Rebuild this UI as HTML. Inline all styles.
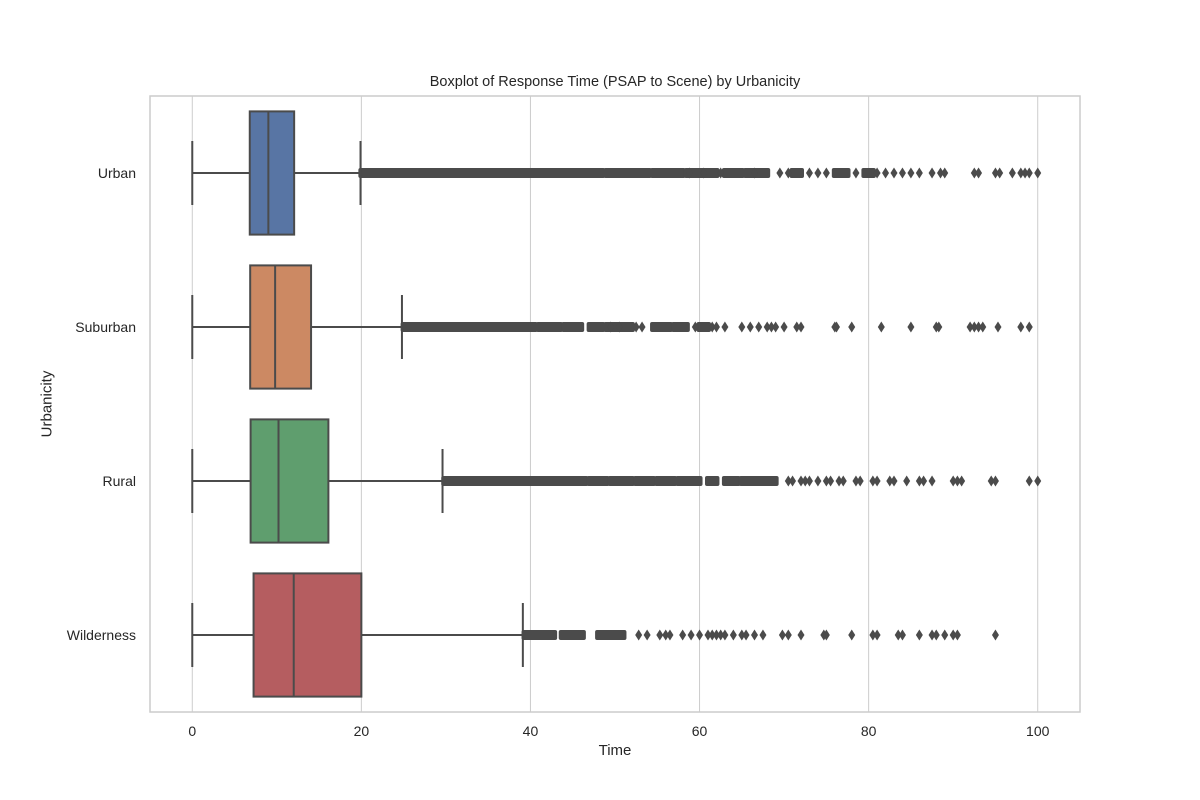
<!DOCTYPE html>
<html><head><meta charset="utf-8"><style>
body{margin:0;background:#fff;}
svg{display:block;font-family:"Liberation Sans","DejaVu Sans",sans-serif;}
</style></head><body>
<svg id="chart" width="1200" height="800"></svg>
<script>
const categories=["Urban","Suburban","Rural","Wilderness"];
const colors=["#5875a4","#cc8963","#5f9e6e","#b55d60"];
const whiskLo=[0,0,0,0];
const q1=[6.8,6.85,6.9,7.25];
const medians=[9.0,9.8,10.2,12.0];
const q3=[12.05,14.05,16.1,20.0];
const whiskHi=[19.9,24.8,29.6,39.1];
// dense outlier bands [start,end]
const bandsUrban=[[20,48.5],[49,54],[54.5,58],[58.5,62],[63,65],[65.5,68],[71,72],[76,77.5],[79.5,80.5]];
const bandsSuburban=[[25,40.5],[41,43.5],[44,46],[47,48.5],[49,52],[54.5,56.5],[57,58.5],[60,61]];
const bandsRural=[[29.8,46.5],[47,49],[49.5,52],[52.5,54.5],[55,57],[57.5,60],[61,62],[63,64.5],[65,69]];
const bandsWild=[[39.3,42.8],[43.7,46.2],[48,51]];
const ptsUrban=[58.8,60.5,62.5,66.5,69.5,70.5,73,74,75,78.5,81,82,83,84,85,86,87.5,88.5,89,92.5,93,95,95.5,97,98,98.5,99,100];
const ptsSuburban=[49.5,50.5,52.5,53.2,59.5,61.5,62,63,65,66,67,68,68.5,69,70,71.5,72,76,76.2,78,81.5,85,88,88.3,92,92.5,93,93.5,95.3,98,99];
const ptsRural=[70.5,71,72,72.5,73,74,75,75.5,76.5,77,78.5,79,80.5,81,82.5,83,84.5,86,86.5,87.5,90,90.5,91,94.5,95,99,100];
const ptsWild=[52.8,53.8,55.3,56,56.5,58,59,60,61,61.5,62,62.5,63,64,65,65.5,66.5,67.5,69.8,70.5,72,74.7,75,78,80.5,81,83.5,84,86,87.5,88,89,90,90.5,95];
const allBands=[bandsUrban,bandsSuburban,bandsRural,bandsWild];
const allPts=[ptsUrban,ptsSuburban,ptsRural,ptsWild];
const xTicks=[0,20,40,60,80,100];

const NS="http://www.w3.org/2000/svg";
const svg=document.getElementById('chart');
const L=150,R=1080,T=96,B=712;
const xmin=-5,xmax=105;
const x=v=>L+(v-xmin)/(xmax-xmin)*(R-L);
const band=(B-T)/categories.length;
const yc=i=>T+band*(i+0.5);
const boxH=band*0.8;
function el(tag,attrs,parent){const e=document.createElementNS(NS,tag);for(const k in attrs)e.setAttribute(k,attrs[k]);(parent||svg).appendChild(e);return e;}

xTicks.forEach(t=>{
  const g=el('line',{x1:x(t),x2:x(t),y1:T,y2:B,stroke:'#cccccc','stroke-width':1});
  
  
  const tl=el('text',{x:x(t),y:B+24,'text-anchor':'middle','font-size':14,fill:'#262626'});
  tl.textContent=t;
  
  
});
const frame=el('rect',{x:L,y:T,width:R-L,height:B-T,fill:'none',stroke:'#cccccc','stroke-width':1.5});



const ink='#4b4b4b';
categories.forEach((c,i)=>{
  const y=yc(i);
  const g=el('g',{});
  
  
  allBands[i].forEach(b=>{
    const r=el('rect',{x:x(b[0])-3,y:y-5,width:x(b[1])-x(b[0])+6,height:10,rx:2,fill:ink},g);
    
    
  });
  allPts[i].forEach(v=>{
    const px=x(v);
    const p=el('polygon',{points:`${px},${y-5.5} ${px+3.5},${y} ${px},${y+5.5} ${px-3.5},${y}`,fill:ink},g);
    
    
  });
  const w1=el('line',{x1:x(whiskLo[i]),x2:x(q1[i]),y1:y,y2:y,stroke:ink,'stroke-width':2},g);
  
  
  const w2=el('line',{x1:x(q3[i]),x2:x(whiskHi[i]),y1:y,y2:y,stroke:ink,'stroke-width':2},g);
  
  
  [whiskLo[i],whiskHi[i]].forEach(v=>{
    const cp=el('line',{x1:x(v),x2:x(v),y1:y-32,y2:y+32,stroke:ink,'stroke-width':2},g);
    
    
  });
  const bx=el('rect',{x:x(q1[i]),y:y-boxH/2,width:x(q3[i])-x(q1[i]),height:boxH,fill:colors[i],stroke:ink,'stroke-width':2},g);
  
  
  const md=el('line',{x1:x(medians[i]),x2:x(medians[i]),y1:y-boxH/2,y2:y+boxH/2,stroke:ink,'stroke-width':2},g);
  
  
  const lb=el('text',{x:L-14,y:y+5,'text-anchor':'end','font-size':14,fill:'#262626'});
  lb.textContent=c;
  
  
});
</script>
<div style="position:absolute;left:0;top:0;width:1200px;height:800px;pointer-events:none;font-family:'Liberation Sans','DejaVu Sans',sans-serif;color:#262626;">
  <div style="position:absolute;left:150px;width:930px;top:74px;text-align:center;font-size:14.5px;">Boxplot of Response Time (PSAP to Scene) by Urbanicity</div>
  <div style="position:absolute;left:150px;width:930px;top:742px;text-align:center;font-size:15px;">Time</div>
  <div style="position:absolute;left:47px;top:404px;font-size:15px;transform:translate(-50%,-50%) rotate(-90deg);white-space:nowrap;">Urbanicity</div>
</div>
</body></html>
